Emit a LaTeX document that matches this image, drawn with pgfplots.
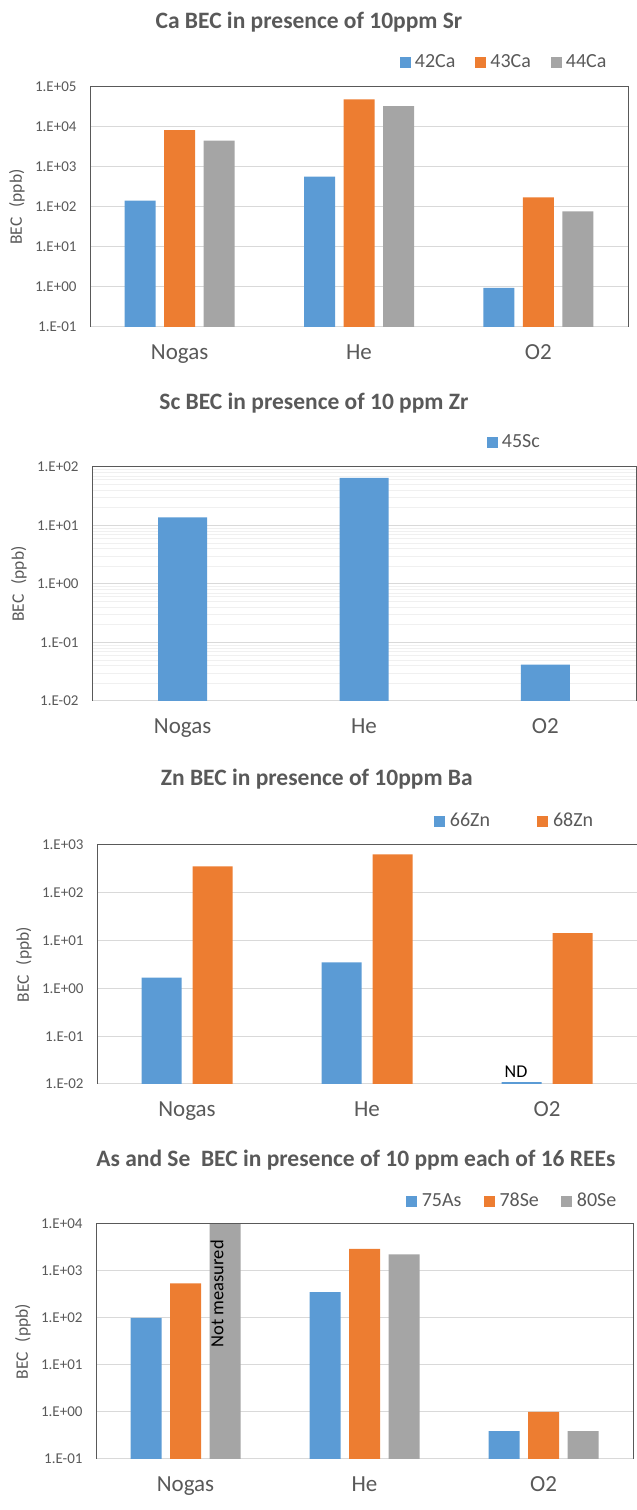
\documentclass[border=0pt]{standalone}
\usepackage{fontspec}
\setmainfont{Carlito}
\usepackage{pgfplots}
\pgfplotsset{compat=1.18}
\definecolor{cblue}{HTML}{5B9BD5}
\definecolor{corange}{HTML}{ED7D31}
\definecolor{cgray}{HTML}{A5A5A5}
\definecolor{txt}{HTML}{595959}
\definecolor{gridc}{HTML}{D9D9D9}
\definecolor{minorc}{HTML}{F0F0F0}
\definecolor{boxc}{HTML}{595959}

\pgfplotsset{
  scale only axis,
  major tick length=0pt, minor tick length=0pt,
  major grid style={draw=gridc, line width=1pt},
  minor grid style={draw=minorc, line width=1pt},
  axis line style={draw=gridc, line width=1pt},
  tick label style={text=txt},
  xticklabel style={font=\fontsize{23}{23}\selectfont, yshift=-14pt},
  yticklabel style={font=\fontsize{15}{15}\selectfont, xshift=-10pt},
  every axis y label/.style={at={([xshift=-73pt]axis description cs:0,0.5)}, rotate=90, anchor=center, font=\fontsize{17.5}{18}\selectfont, text=txt},
  every axis title/.style={anchor=base, font=\bfseries\fontsize{23.5}{24}\selectfont, text=txt},
  every axis legend/.style={font=\fontsize{20}{20}\selectfont, text=txt, draw=none, fill=none, inner sep=0pt, outer sep=0pt, anchor=south west, nodes={inner sep=0pt}},
}

\begin{document}
\begin{tikzpicture}
\path[use as bounding box] (0,0) rectangle (637pt,1510pt);

% Panel 1
\begin{axis}[ybar=8.5pt, ymode=log, log origin=infty, clip=false,
  legend image code/.code={\fill[#1] (0pt,0pt) rectangle (11pt,11pt);},
  at={(90pt,1183pt)}, anchor=south west, width=538pt, height=240pt,
  xmin=-0.5, xmax=2.5, xtick={0,1,2}, xticklabels={Nogas,He,O2},
  ymin=0.1, ymax=1e5, ytick={0.1,1,10,100,1000,10000,100000},
  yticklabels={1.E-01,1.E+00,1.E+01,1.E+02,1.E+03,1.E+04,1.E+05},
  ymajorgrids, ylabel={BEC\hspace{10pt}(ppb)},
  bar width=31pt,
  title={Ca BEC in presence of 10ppm Sr},
  title style={at={([yshift=58pt]axis description cs:0.407,1)}},
  legend columns=3,
  legend style={at={([yshift=19pt]axis description cs:0.576,1)},
    /tikz/every odd column/.append style={column sep=4pt},
    /tikz/every even column/.append style={column sep=20pt}},
]
\addplot[fill=cblue, draw=none] coordinates {(0,145) (1,575) (2,0.95)};
\addplot[fill=corange, draw=none] coordinates {(0,8300) (1,49000) (2,173)};
\addplot[fill=cgray, draw=none] coordinates {(0,4570) (1,33000) (2,78)};
\legend{42Ca,43Ca,44Ca}
\draw[boxc, line width=1pt] (rel axis cs:0,0) -- (rel axis cs:0,1) -- (rel axis cs:1,1) -- (rel axis cs:1,0);
\end{axis}

% Panel 2
\begin{axis}[ybar, ymode=log, log origin=infty, clip=false,
  legend image code/.code={\fill[#1] (0pt,0pt) rectangle (11pt,11pt);},
  at={(92pt,809pt)}, anchor=south west, width=544pt, height=234pt,
  xmin=-0.5, xmax=2.5, xtick={0,1,2}, xticklabels={Nogas,He,O2},
  ymin=0.01, ymax=100, ytick={0.01,0.1,1,10,100},
  yticklabels={1.E-02,1.E-01,1.E+00,1.E+01,1.E+02},
  minor ytick={0.02,0.03,0.04,0.05,0.06,0.07,0.08,0.09,0.2,0.3,0.4,0.5,0.6,0.7,0.8,0.9,2,3,4,5,6,7,8,9,20,30,40,50,60,70,80,90},
  ymajorgrids, yminorgrids, ylabel={BEC\hspace{10pt}(ppb)},
  bar width=49pt,
  title={Sc BEC in presence of 10 ppm Zr},
  title style={at={([yshift=57pt]axis description cs:0.408,1)}},
  legend columns=1,
  legend style={at={([yshift=19pt]axis description cs:0.726,1)},
    /tikz/every odd column/.append style={column sep=4pt}},
]
\addplot[fill=cblue, draw=none] coordinates {(0,13.8) (1,65) (2,0.042)};
\legend{45Sc}
\draw[boxc, line width=1pt] (rel axis cs:0,0) -- (rel axis cs:0,1) -- (rel axis cs:1,1) -- (rel axis cs:1,0);
\end{axis}

% Panel 3
\begin{axis}[ybar=11pt, ymode=log, log origin=infty, clip=false,
  legend image code/.code={\fill[#1] (0pt,0pt) rectangle (11pt,11pt);},
  at={(97pt,426pt)}, anchor=south west, width=540pt, height=239pt,
  xmin=-0.5, xmax=2.5, xtick={0,1,2}, xticklabels={Nogas,He,O2},
  ymin=0.01, ymax=1000, ytick={0.01,0.1,1,10,100,1000},
  yticklabels={1.E-02,1.E-01,1.E+00,1.E+01,1.E+02,1.E+03},
  ymajorgrids, ylabel={BEC\hspace{10pt}(ppb)},
  bar width=40pt,
  title={Zn BEC in presence of 10ppm Ba},
  title style={at={([yshift=59pt]axis description cs:0.407,1)}},
  legend columns=2,
  legend style={at={([yshift=18pt]axis description cs:0.624,1)},
    /tikz/every odd column/.append style={column sep=5pt},
    /tikz/every even column/.append style={column sep=47pt}},
]
\addplot[fill=cblue, draw=none] coordinates {(0,1.67) (1,3.5) (2,0.011)};
\addplot[fill=corange, draw=none] coordinates {(0,357) (1,635) (2,14.4)};
\legend{66Zn,68Zn}
\node[font=\fontsize{18}{18}\selectfont, anchor=base, text=black] at ([xshift=-31pt,yshift=6pt]axis cs:2,0.01) {ND};
\draw[boxc, line width=1pt] (rel axis cs:0,0) -- (rel axis cs:0,1) -- (rel axis cs:1,1) -- (rel axis cs:1,0);
\end{axis}

% Panel 4
\begin{axis}[ybar=8.5pt, ymode=log, log origin=infty, clip=false,
  legend image code/.code={\fill[#1] (0pt,0pt) rectangle (11pt,11pt);},
  at={(96pt,51pt)}, anchor=south west, width=537pt, height=235pt,
  xmin=-0.5, xmax=2.5, xtick={0,1,2}, xticklabels={Nogas,He,O2},
  ymin=0.1, ymax=1e4, ytick={0.1,1,10,100,1000,10000},
  yticklabels={1.E-01,1.E+00,1.E+01,1.E+02,1.E+03,1.E+04},
  ymajorgrids, ylabel={BEC\hspace{10pt}(ppb)},
  bar width=31pt,
  title={As and Se\ \ BEC in presence of 10 ppm each of 16 REEs},
  title style={at={([yshift=57pt]axis description cs:0.484,1)}},
  legend columns=3,
  legend style={at={([yshift=17pt]axis description cs:0.577,1)},
    /tikz/every odd column/.append style={column sep=5pt},
    /tikz/every even column/.append style={column sep=22pt}},
]
\addplot[fill=cblue, draw=none] coordinates {(0,100) (1,357) (2,0.39)};
\addplot[fill=corange, draw=none] coordinates {(0,546) (1,2940) (2,1.0)};
\addplot[fill=cgray, draw=none] coordinates {(0,10000) (1,2260) (2,0.39)};
\legend{75As,78Se,80Se}
\node[font=\fontsize{18.5}{18.5}\selectfont, rotate=90, anchor=east, inner sep=0pt, text=black] at ([xshift=31.5pt,yshift=-16pt]axis cs:0,10000) {Not measured};
\draw[boxc, line width=1pt] (rel axis cs:0,0) -- (rel axis cs:0,1) -- (rel axis cs:1,1) -- (rel axis cs:1,0);
\end{axis}
\end{tikzpicture}
\end{document}
